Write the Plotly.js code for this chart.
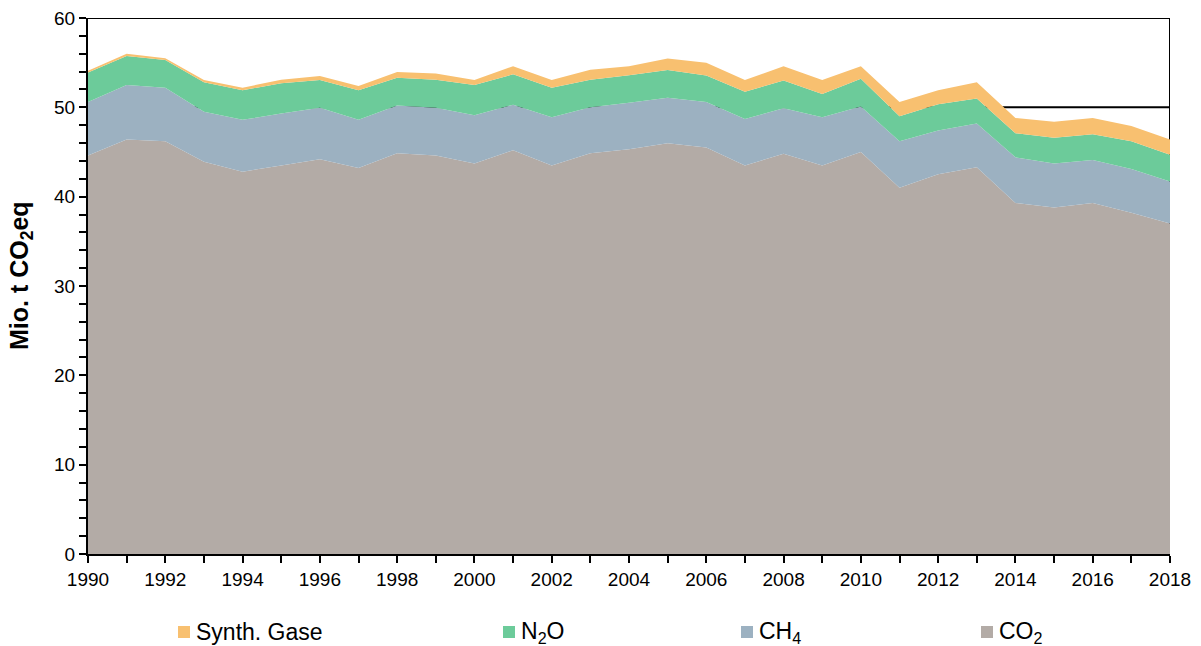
<!DOCTYPE html>
<html>
<head>
<meta charset="utf-8">
<script src="https://cdn.plot.ly/plotly-3.0.1.min.js"></script>
<style>html,body{margin:0;padding:0;background:#fff;}#chart{width:1201px;height:646px;}</style>
</head>
<body>
<div id="chart"></div>
<script>
// Data (Mio. t CO2eq)
const years = [1990,1991,1992,1993,1994,1995,1996,1997,1998,1999,2000,2001,2002,2003,2004,2005,2006,2007,2008,2009,2010,2011,2012,2013,2014,2015,2016,2017,2018];
const co2   = [44.6,46.4,46.2,43.9,42.8,43.5,44.2,43.2,44.85,44.6,43.7,45.2,43.5,44.85,45.3,45.97,45.5,43.5,44.8,43.5,45.0,41.0,42.5,43.3,39.3,38.8,39.3,38.2,37.0];
const ch4   = [6.0,6.1,6.0,5.6,5.8,5.8,5.75,5.4,5.35,5.35,5.4,5.1,5.4,5.15,5.2,5.1,5.1,5.2,5.1,5.4,5.1,5.2,4.9,4.9,5.1,4.9,4.8,4.9,4.7];
const n2o   = [3.3,3.25,3.1,3.3,3.3,3.4,3.1,3.3,3.1,3.15,3.4,3.4,3.3,3.1,3.1,3.1,2.95,3.05,3.1,2.6,3.1,2.8,2.95,2.8,2.7,2.9,2.9,3.1,3.0];
const synth = [0.2,0.25,0.2,0.25,0.3,0.4,0.45,0.5,0.65,0.7,0.55,0.9,0.85,1.1,1.0,1.3,1.45,1.3,1.6,1.55,1.4,1.6,1.55,1.8,1.7,1.8,1.8,1.7,1.7];

const seriesNames = ['CO<sub>2</sub>','CH<sub>4</sub>','N<sub>2</sub>O','Synth. Gase'];
const seriesData = [co2, ch4, n2o, synth];
const colors = ['#B3ABA6','#9CB1C1','#6CCB9A','#F8C070'];
const yTitle = '<b>Mio. t CO<sub>2</sub>eq</b>';

const traces = seriesData.map((d,i)=>({
  type:'scatter', x:years, y:d, name:seriesNames[i],
  stackgroup:'one', mode:'none', fillcolor:colors[i],
  showlegend:false, hoverinfo:'skip'
}));

// custom legend (order: Synth, N2O, CH4, CO2)
const legendOrder = [3,2,1,0];
const swatchLeftPx = [178,503,741,981];
const plotL=88, plotW=1082, plotB=554, plotH=536;
const px2x = p => (p-plotL)/plotW;
const py2y = p => (plotB-p)/plotH;
const shapes = [
  {type:'line', xref:'x', yref:'y', x0:1990, x1:2018, y0:60, y1:60, line:{color:'#000',width:2}, layer:'below'},
  {type:'line', xref:'x', yref:'y', x0:1990, x1:2018, y0:50, y1:50, line:{color:'#000',width:2}, layer:'below'},
  {type:'line', xref:'x', yref:'y', x0:2018, x1:2018, y0:0, y1:60, line:{color:'#000',width:2}, layer:'below'}
];
const annotations = [];
legendOrder.forEach((si,k)=>{
  const l = swatchLeftPx[k];
  shapes.push({type:'rect', xref:'paper', yref:'paper', x0:px2x(l), x1:px2x(l+12), y0:py2y(638), y1:py2y(626), fillcolor:colors[si], line:{width:0}});
  annotations.push({xref:'paper', yref:'paper', x:px2x(l+16), y:py2y(632), xanchor:'left', yanchor:'middle', showarrow:false, text:seriesNames[si], font:{size:23,color:'#000'}});
});
annotations.push({xref:'paper', yref:'paper', x:px2x(21), y:py2y(276), xanchor:'center', yanchor:'middle', textangle:-90, showarrow:false, text:yTitle, font:{size:25,color:'#000'}});

const layout = {
  width:1201, height:646,
  margin:{l:88, r:31, t:18, b:92},
  paper_bgcolor:'#fff', plot_bgcolor:'#fff',
  font:{family:'"Liberation Sans", Arial, sans-serif', color:'#000', size:19},
  showlegend:false,
  xaxis:{
    range:[1990,2018], tick0:1990, dtick:2, showgrid:false, zeroline:false,
    showline:true, linecolor:'#000', linewidth:2,
    ticks:'outside', ticklen:7, tickwidth:2, tickcolor:'#000',
    minor:{dtick:1, ticks:'outside', ticklen:7, tickwidth:2, tickcolor:'#000', showgrid:false},
    tickfont:{size:19}
  },
  yaxis:{
    range:[0,60], dtick:10, showgrid:false, zeroline:false,
    showline:true, linecolor:'#000', linewidth:2,
    ticks:'outside', ticklen:7, tickwidth:2, tickcolor:'#000',
    minor:{dtick:2, ticks:'outside', ticklen:7, tickwidth:2, tickcolor:'#000', showgrid:false},
    tickfont:{size:19}
  },
  shapes:shapes,
  annotations:annotations
};

Plotly.newPlot('chart', traces, layout, {staticPlot:true, displayModeBar:false});
</script>
</body>
</html>
